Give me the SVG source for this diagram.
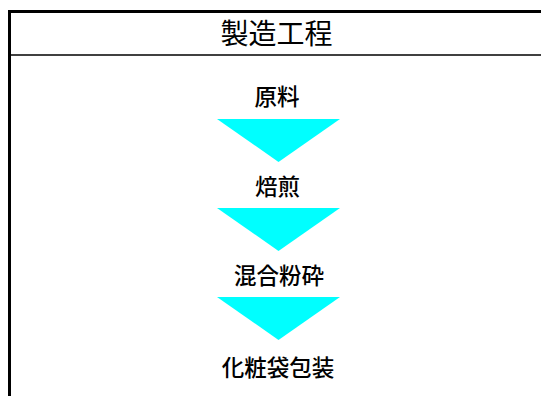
<svg xmlns="http://www.w3.org/2000/svg" width="541" height="396" viewBox="0 0 541 396">
<style>
.t{font-family:"Noto Sans CJK JP","Noto Sans CJK SC",sans-serif;fill:#000;text-anchor:middle;dominant-baseline:central}
.h{font-size:28px}
.s{font-size:22.5px;font-weight:500}
.arr{fill:#00ffff;stroke:none}
</style>
<rect x="0" y="0" width="541" height="396" fill="#fff"/>
<g id="frame">
<path d="M9.5,400 V11.5 H545" fill="none" stroke="#000" stroke-width="3"/>
<line x1="9.5" y1="55" x2="545" y2="55" stroke="#000" stroke-width="1.5"/>
<text class="t h" x="276.5" y="32">製造工程</text>
</g>
<g id="connectors">
<polygon class="arr" points="217,119 340,119 278.5,162"/>
<polygon class="arr" points="217,208 340,208 278.5,251"/>
<polygon class="arr" points="217,297 340,297 278.5,340"/>
</g>
<g id="n1"><text class="t s" x="277" y="95">原料</text></g>
<g id="n2"><text class="t s" x="277.5" y="185">焙煎</text></g>
<g id="n3"><text class="t s" x="279" y="274">混合粉砕</text></g>
<g id="n4"><text class="t s" x="278" y="366">化粧袋包装</text></g>
</svg>
